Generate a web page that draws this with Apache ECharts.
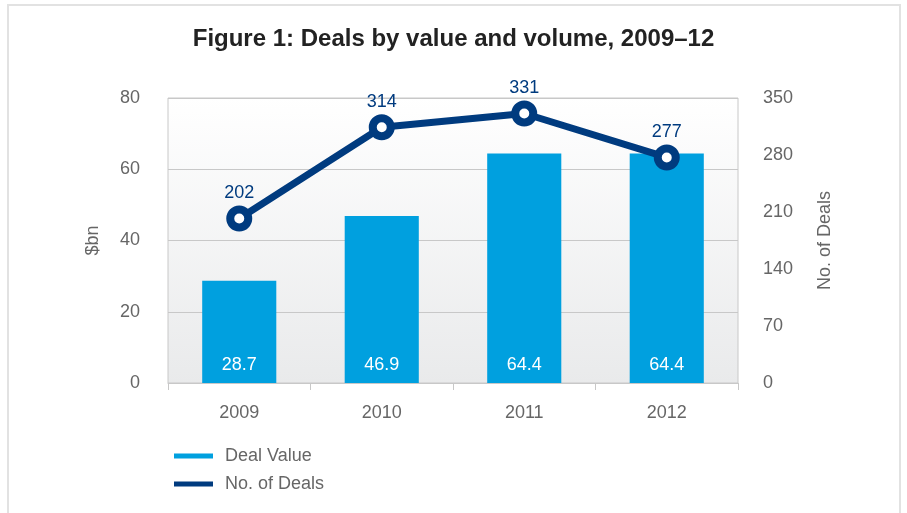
<!DOCTYPE html>
<html>
<head>
<meta charset="utf-8">
<script src="https://cdn.jsdelivr.net/npm/echarts@6/dist/echarts.min.js"></script>
<style>
html,body{margin:0;padding:0;background:#fff;}
#chart{width:907px;height:513px;}
</style>
</head>
<body>
<div id="chart"></div>
<script>
const categories = ['2009', '2010', '2011', '2012'];
const dealValue = [28.7, 46.9, 64.4, 64.4];
const dealCount = [202, 314, 331, 277];
const leftTicks = [0, 20, 40, 60, 80];
const rightTicks = [0, 70, 140, 210, 280, 350];

const FONT = '"Liberation Sans", Arial, sans-serif';
const BLUE = '#00a0df';
const NAVY = '#003b7f';
const GREY = '#666666';

const chart = echarts.init(document.getElementById('chart'), null, {renderer: 'canvas'});
chart.setOption({
  backgroundColor: '#ffffff',
  animation: false,
  textStyle: {fontFamily: FONT},
  title: {
    text: 'Figure 1: Deals by value and volume, 2009–12',
    left: 'center',
    top: 22,
    textStyle: {fontFamily: FONT, fontSize: 24, fontWeight: 'bold', color: '#222222'}
  },
  graphic: [{
    type: 'rect',
    shape: {x: 8, y: 5, width: 892, height: 530},
    style: {fill: 'none', stroke: '#e2e2e2', lineWidth: 2},
    silent: true,
    z: -10
  }],
  legend: {
    orient: 'vertical',
    left: 169,
    top: 442,
    itemWidth: 39,
    itemHeight: 5,
    itemGap: 10,
    textStyle: {fontFamily: FONT, fontSize: 18, color: GREY, padding: [0, 0, 0, 7]},
    data: [
      {name: 'Deal Value', icon: 'rect', itemStyle: {color: BLUE}},
      {name: 'No. of Deals', icon: 'rect', itemStyle: {color: NAVY, borderWidth: 0}}
    ]
  },
  grid: {
    left: 168, right: 169, top: 98, bottom: 130,
    show: true,
    borderColor: '#c8c8c8',
    borderWidth: 1,
    backgroundColor: new echarts.graphic.LinearGradient(0, 0, 0, 1, [
      {offset: 0, color: '#ffffff'},
      {offset: 1, color: '#e9eaeb'}
    ])
  },
  xAxis: {
    type: 'category',
    data: categories,
    axisLine: {lineStyle: {color: '#c8c8c8'}},
    axisTick: {show: true, length: 7, lineStyle: {color: '#c8c8c8'}},
    axisLabel: {fontFamily: FONT, fontSize: 18, color: GREY, margin: 21}
  },
  yAxis: [{
    type: 'value',
    min: leftTicks[0], max: leftTicks[leftTicks.length - 1], interval: 20,
    name: '$bn',
    nameLocation: 'middle',
    nameRotate: 90,
    nameGap: 66,
    nameTextStyle: {fontFamily: FONT, fontSize: 18, color: GREY},
    axisLine: {show: false},
    axisTick: {show: false},
    splitLine: {lineStyle: {color: '#c8c8c8'}},
    axisLabel: {fontFamily: FONT, fontSize: 18, color: GREY, margin: 28, padding: [3, 0, 0, 0]}
  }, {
    type: 'value',
    position: 'right',
    min: rightTicks[0], max: rightTicks[rightTicks.length - 1], interval: 70,
    name: 'No. of Deals',
    nameLocation: 'middle',
    nameRotate: 90,
    nameGap: 78,
    nameTextStyle: {fontFamily: FONT, fontSize: 18, color: GREY},
    axisLine: {show: false},
    axisTick: {show: false},
    splitLine: {show: false},
    axisLabel: {fontFamily: FONT, fontSize: 18, color: GREY, margin: 25, padding: [3, 0, 0, 0]}
  }],
  series: [{
    name: 'Deal Value',
    type: 'bar',
    data: dealValue,
    barWidth: '52%',
    itemStyle: {color: BLUE},
    label: {
      show: true,
      position: 'insideBottom',
      distance: 9,
      fontFamily: FONT, fontSize: 18, color: '#ffffff'
    }
  }, {
    name: 'No. of Deals',
    type: 'line',
    yAxisIndex: 1,
    data: dealCount,
    symbol: 'circle',
    symbolSize: 18,
    lineStyle: {color: NAVY, width: 7},
    itemStyle: {color: '#ffffff', borderColor: NAVY, borderWidth: 8},
    label: {
      show: true,
      position: 'top',
      distance: 3,
      fontFamily: FONT, fontSize: 18, color: NAVY
    },
    z: 5
  }]
});
</script>
</body>
</html>
